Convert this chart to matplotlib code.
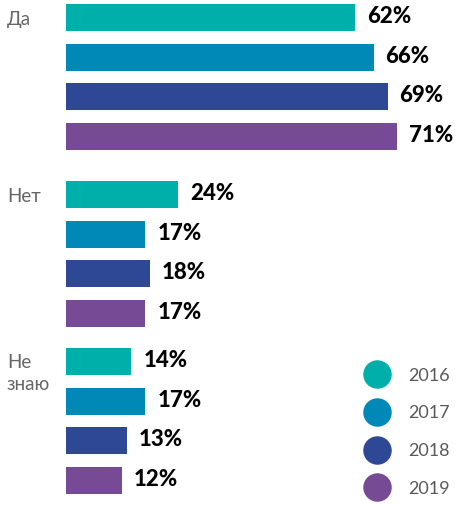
import matplotlib
matplotlib.use("Agg")
import matplotlib.pyplot as plt
from matplotlib.lines import Line2D

categories = ["Да", "Нет", "Не\nзнаю"]
years = ["2016", "2017", "2018", "2019"]
values = {
    "2016": [62, 24, 14],
    "2017": [66, 17, 17],
    "2018": [69, 18, 13],
    "2019": [71, 17, 12],
}
colors = ["#00AFAA", "#0088B7", "#2F4895", "#774A96"]

W, H = 456, 505
fig = plt.figure(figsize=(W / 100, H / 100), dpi=100)
ax = fig.add_axes([66 / W, 0, 1 - 66 / W, 1])
px_per_pct = 4.66
ax.set_xlim(0, (W - 66) / px_per_pct)
ax.set_ylim(H, 0)
ax.axis("off")

group_start = [17.5, 194.5, 361.5]
bar_step = 39.7
bar_h = 27

for gi, cat in enumerate(categories):
    for yi, yr in enumerate(years):
        y = group_start[gi] + yi * bar_step
        v = values[yr][gi]
        ax.barh(y, v, height=bar_h, color=colors[yi], linewidth=0)
        ax.annotate(f"{v}%", xy=(v, y), xytext=(12, 1), textcoords="offset pixels",
                    va="center", ha="left", fontsize=16, fontweight=900,
                    color="black", family="Lato")
    fig.text(7 / W, 1 - (group_start[gi] - 7) / H, cat, ha="left", va="top",
             fontsize=13.5, color="#666666", family="Lato", linespacing=1.3)

handles = [Line2D([], [], marker="o", linestyle="none", markersize=19.5,
                  markerfacecolor=c, markeredgecolor=c) for c in colors]
leg = fig.legend(handles, years, loc="upper left",
                 bbox_to_anchor=(363.5 / W, 1 - 367.6 / H), frameon=False,
                 labelspacing=1.2, handletextpad=0.97,
                 borderpad=0, borderaxespad=0, handlelength=1.5,
                 prop={"family": "Lato", "size": 13})
for t in leg.get_texts():
    t.set_color("#595959")

fig.savefig("out.png", dpi=100)
